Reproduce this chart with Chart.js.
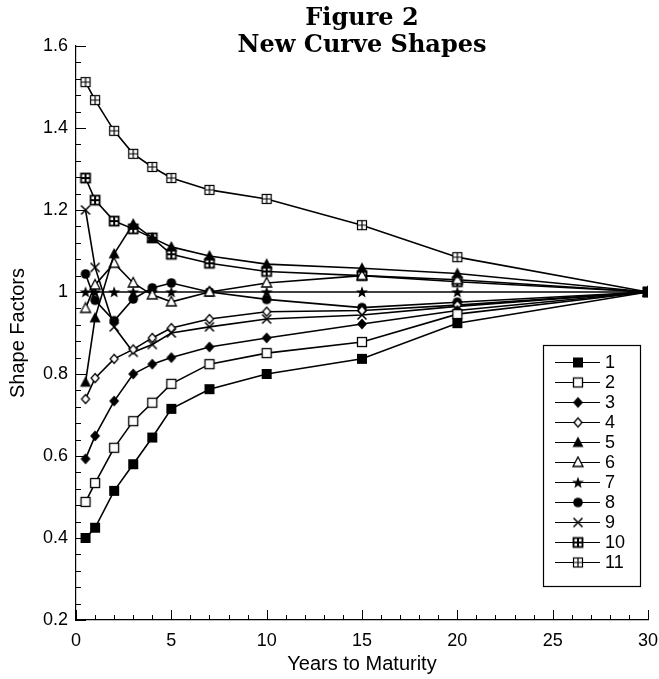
<!DOCTYPE html>
<html><head><meta charset="utf-8">
<script src="https://cdn.jsdelivr.net/npm/chart.js@4/dist/chart.umd.min.js"></script>
<style>html,body{margin:0;padding:0;background:#fff}</style>
</head><body>
<canvas id="c" width="659" height="679"></canvas>
<script>
// ---- data ----
const maturities = [0.5, 1, 2, 3, 4, 5, 7, 10, 15, 20, 30];
const seriesNames = ['1','2','3','4','5','6','7','8','9','10','11'];
const s1  = [0.400, 0.425, 0.515, 0.580, 0.645, 0.715, 0.763, 0.800, 0.837, 0.924, 1.000];
const s2  = [0.488, 0.534, 0.620, 0.685, 0.730, 0.776, 0.824, 0.851, 0.878, 0.946, 1.000];
const s3  = [0.593, 0.649, 0.734, 0.800, 0.824, 0.840, 0.866, 0.888, 0.922, 0.955, 1.000];
const s4  = [0.739, 0.790, 0.837, 0.860, 0.888, 0.912, 0.934, 0.952, 0.955, 0.968, 1.000];
const s5  = [0.780, 0.937, 1.093, 1.166, 1.132, 1.110, 1.088, 1.068, 1.058, 1.045, 1.000];
const s6  = [0.960, 1.017, 1.070, 1.022, 0.993, 0.976, 1.000, 1.022, 1.040, 1.030, 1.000];
const s7  = [1.000, 1.000, 1.000, 1.000, 1.000, 1.000, 1.000, 1.000, 1.000, 1.000, 1.000];
const s8  = [1.044, 0.980, 0.930, 0.983, 1.010, 1.022, 1.000, 0.982, 0.962, 0.975, 1.000];
const s9  = [1.200, 1.060, 0.915, 0.853, 0.872, 0.900, 0.915, 0.934, 0.944, 0.965, 1.000];
const s10 = [1.278, 1.224, 1.173, 1.154, 1.132, 1.092, 1.070, 1.050, 1.040, 1.025, 1.000];
const s11 = [1.512, 1.468, 1.393, 1.337, 1.305, 1.278, 1.249, 1.227, 1.163, 1.085, 1.000];
const allSeries = [s1, s2, s3, s4, s5, s6, s7, s8, s9, s10, s11];
const markerTypes = ['fsq','osq','fdia','odia','ftri','otri','star','fcir','x','sq10','sq11'];
const xTicks = [0, 5, 10, 15, 20, 25, 30];
const yTicks = [0.2, 0.4, 0.6, 0.8, 1.0, 1.2, 1.4, 1.6];

// ---- markers ----
function makeMarker(type) {
  const S = 14, c = document.createElement('canvas');
  c.width = S; c.height = S;
  const g = c.getContext('2d');
  const m = S / 2;
  g.fillStyle = '#000'; g.strokeStyle = '#000'; g.lineWidth = 1.3;
  g.lineJoin = 'miter';
  switch (type) {
    case 'fsq': g.fillRect(m - 5, m - 5, 10, 10); break;
    case 'osq': g.fillStyle = '#fff'; g.fillRect(m - 4.5, m - 4.5, 9, 9); g.strokeRect(m - 4.5, m - 4.5, 9, 9); break;
    case 'fdia': g.beginPath(); g.moveTo(m, m - 5.5); g.lineTo(m + 5, m); g.lineTo(m, m + 5.5); g.lineTo(m - 5, m); g.closePath(); g.fill(); break;
    case 'odia': g.beginPath(); g.moveTo(m, m - 4.5); g.lineTo(m + 4, m); g.lineTo(m, m + 4.5); g.lineTo(m - 4, m); g.closePath(); g.fillStyle = '#fff'; g.fill(); g.stroke(); break;
    case 'ftri': g.beginPath(); g.moveTo(m, m - 6); g.lineTo(m + 5.5, m + 4.5); g.lineTo(m - 5.5, m + 4.5); g.closePath(); g.fill(); break;
    case 'otri': g.beginPath(); g.moveTo(m, m - 5.5); g.lineTo(m + 5, m + 4); g.lineTo(m - 5, m + 4); g.closePath(); g.fillStyle = '#fff'; g.fill(); g.stroke(); break;
    case 'star': {
      g.beginPath();
      for (let i = 0; i < 10; i++) {
        const r = i % 2 === 0 ? 6.2 : 2.6;
        const a = -Math.PI / 2 + i * Math.PI / 5;
        const px = m + r * Math.cos(a), py = m + 0.5 + r * Math.sin(a);
        if (i === 0) g.moveTo(px, py); else g.lineTo(px, py);
      }
      g.closePath(); g.fill(); break;
    }
    case 'fcir': g.beginPath(); g.arc(m, m, 4.8, 0, Math.PI * 2); g.fill(); break;
    case 'x': g.lineWidth = 1.5; g.beginPath(); g.moveTo(m - 4.5, m - 4.5); g.lineTo(m + 4.5, m + 4.5); g.moveTo(m + 4.5, m - 4.5); g.lineTo(m - 4.5, m + 4.5); g.stroke(); break;
    case 'sq10': g.fillStyle = '#fff'; g.fillRect(m - 5, m - 5, 10, 10); g.lineWidth = 1.8; g.strokeRect(m - 4.5, m - 4.5, 9, 9);
      g.fillStyle = '#000'; g.fillRect(m - 1, m - 4.5, 2, 9); g.fillRect(m - 4.5, m - 1, 9, 2); break;
    case 'sq11': g.fillStyle = '#fff'; g.fillRect(m - 5, m - 5, 10, 10); g.lineWidth = 1.2; g.strokeRect(m - 4.5, m - 4.5, 9, 9);
      g.beginPath(); g.moveTo(m, m - 4.5); g.lineTo(m, m + 4.5); g.moveTo(m - 4.5, m); g.lineTo(m + 4.5, m); g.stroke(); break;
  }
  return c;
}
const markers = markerTypes.map(makeMarker);

const datasets = allSeries.map((arr, i) => ({
  label: seriesNames[i],
  data: maturities.map((x, j) => ({ x: x, y: arr[j] })),
  borderColor: '#000',
  borderWidth: 1.6,
  pointStyle: markers[i],
  pointRadius: 5,
  pointHoverRadius: 5,
  fill: false,
  tension: 0
}));

const FONT = '"Liberation Sans", Arial, sans-serif';

// ---- custom plugins: inward ticks, title, legend ----
const decor = {
  id: 'decor',
  afterDraw(chart) {
    const ctx = chart.ctx, xs = chart.scales.x, ys = chart.scales.y;
    const left = xs.left, bottom = ys.bottom;
    ctx.save();
    ctx.strokeStyle = '#000'; ctx.lineWidth = 1;
    for (let v = 0; v <= 30; v++) {
      const px = Math.round(xs.getPixelForValue(v)) + 0.5;
      const len = v % 5 === 0 ? 10 : 5;
      ctx.beginPath(); ctx.moveTo(px, bottom); ctx.lineTo(px, bottom - len); ctx.stroke();
    }
    for (let k = 0; k <= 35; k++) {
      const v = 0.2 + k * 0.04;
      const py = Math.round(ys.getPixelForValue(v)) + 0.5;
      const len = k % 5 === 0 ? 10 : 5;
      ctx.beginPath(); ctx.moveTo(left, py); ctx.lineTo(left + len, py); ctx.stroke();
    }
    ctx.fillStyle = '#000';
    ctx.textAlign = 'center'; ctx.textBaseline = 'middle';
    ctx.font = 'bold 24px "DejaVu Serif", serif';
    ctx.fillText('Figure 2', 362, 19);
    ctx.fillText('New Curve Shapes', 362, 46);
    const bx = 543.5, by = 345.5, bw = 97, bh = 241;
    ctx.fillStyle = '#fff'; ctx.fillRect(bx, by, bw, bh);
    ctx.strokeStyle = '#000'; ctx.lineWidth = 1.2; ctx.strokeRect(bx, by, bw, bh);
    ctx.font = '18px ' + FONT;
    ctx.textAlign = 'left';
    chart.data.datasets.forEach((ds, i) => {
      const y = 362 + i * 20;
      ctx.strokeStyle = '#000'; ctx.lineWidth = 1.2;
      ctx.beginPath(); ctx.moveTo(555, y + 0.5); ctx.lineTo(600, y + 0.5); ctx.stroke();
      const img = ds.pointStyle;
      ctx.drawImage(img, 578 - img.width / 2, y - img.height / 2 + 0.5);
      ctx.fillStyle = '#000';
      ctx.fillText(ds.label, 605, y + 1);
    });
    ctx.restore();
  }
};

new Chart(document.getElementById('c'), {
  type: 'line',
  data: { datasets },
  options: {
    responsive: false,
    devicePixelRatio: 1,
    animation: false,
    layout: { padding: { left: 0, right: 0, top: 46, bottom: 0 } },
    plugins: { legend: { display: false }, title: { display: false }, tooltip: { enabled: false } },
    elements: { line: { borderCapStyle: 'butt' } },
    scales: {
      x: {
        type: 'linear', min: 0, max: 30,
        afterBuildTicks: s => { s.ticks = xTicks.map(v => ({ value: v })); },
        afterFit: s => { s.height = 59; s.paddingRight = 11; s.paddingLeft = 0; },
        grid: { display: false, drawTicks: false },
        border: { display: true, color: '#000', width: 1.2 },
        ticks: { color: '#000', font: { family: FONT, size: 18 }, padding: 10, maxRotation: 0 },
        title: { display: true, text: 'Years to Maturity', color: '#000', font: { family: FONT, size: 20 }, padding: { top: 0, bottom: 3 } }
      },
      y: {
        type: 'linear', min: 0.2, max: 1.6,
        afterBuildTicks: s => { s.ticks = yTicks.map(v => ({ value: v })); },
        afterFit: s => { s.width = 76; },
        grid: { display: false, drawTicks: false },
        border: { display: true, color: '#000', width: 1.2 },
        ticks: { color: '#000', font: { family: FONT, size: 18 }, padding: 8,
          callback: v => (Math.abs(v - 1) < 1e-9 ? '1' : v.toFixed(1)) },
        title: { display: true, text: 'Shape Factors', color: '#000', font: { family: FONT, size: 20 }, padding: { top: 6, bottom: 0 } }
      }
    }
  },
  plugins: [decor]
});
</script>
</body></html>
